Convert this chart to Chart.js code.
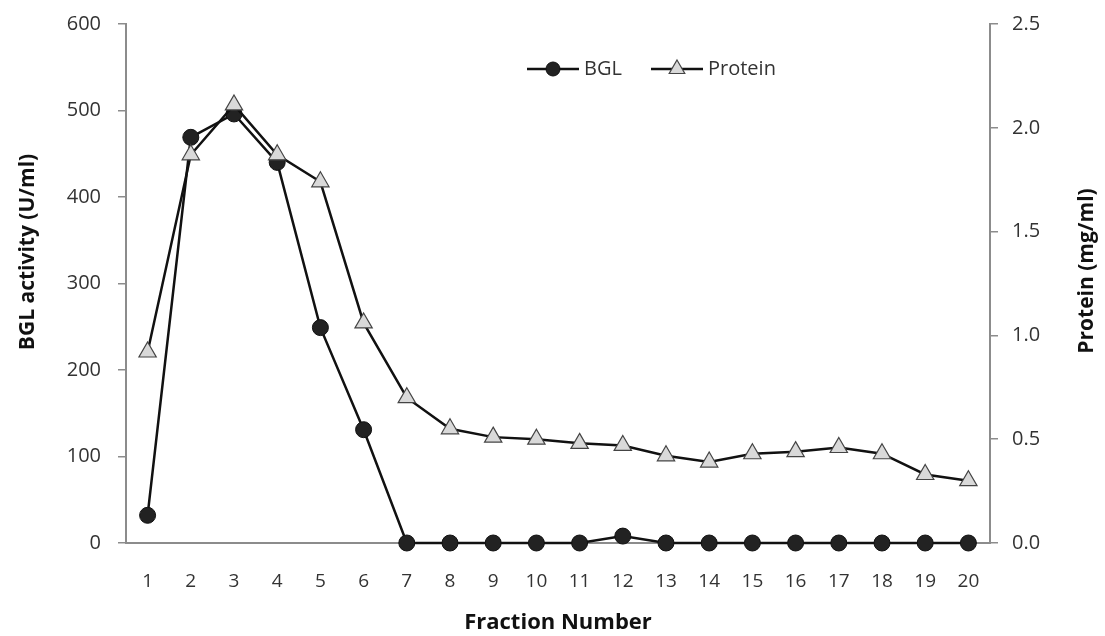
<!DOCTYPE html>
<html>
<head>
<meta charset="utf-8">
<script src="https://cdn.jsdelivr.net/npm/chart.js@4/dist/chart.umd.min.js"></script>
<style>
  html, body { margin: 0; padding: 0; background: #fff; }
  #wrap { width: 1105px; height: 636px; }
</style>
</head>
<body>
<div id="wrap"><canvas id="fractionChart"></canvas></div>
<script>
(function () {
	"use strict";

	var fractions = ["1","2","3","4","5","6","7","8","9","10","11","12","13","14","15","16","17","18","19","20"];
	var bglActivity = [32, 469, 496, 440, 249, 131, 0, 0, 0, 0, 0, 8, 0, 0, 0, 0, 0, 0, 0, 0];
	var proteinConc = [0.92, 1.87, 2.11, 1.87, 1.74, 1.06, 0.70, 0.55, 0.51, 0.50, 0.48, 0.47, 0.42, 0.39, 0.43, 0.44, 0.46, 0.43, 0.33, 0.30];
	var bglTicks = [0, 100, 200, 300, 400, 500, 600];
	var proteinTicks = [0, 0.5, 1.0, 1.5, 2.0, 2.5];

	var fontFamily = "'Open Sans', 'Noto Sans', sans-serif";
	var axisGrey = "#8c8c8c";
	var textColor = "#333";

	// legend + both rotated y titles (read bottom to top on both sides)
	var extras = {
		id: "extras",
		afterDraw: function (chart) {
			var c = chart.ctx;
			var ds = chart.data.datasets;
			var items = [
				{ label: "BGL", ds: ds[0], x: 527 },
				{ label: "Protein", ds: ds[1], x: 651 }
			];
			var y = 69;
			c.save();
			items.forEach(function (it) {
				c.strokeStyle = "#111";
				c.lineWidth = 2.5;
				c.beginPath();
				c.moveTo(it.x, y);
				c.lineTo(it.x + 52, y);
				c.stroke();
				c.fillStyle = it.ds.pointBackgroundColor;
				c.strokeStyle = it.ds.pointBorderColor;
				c.lineWidth = it.ds.pointBorderWidth;
				Chart.helpers.drawPoint(c, {
					pointStyle: it.ds.pointStyle,
					radius: it.ds.pointRadius - 1,
					borderWidth: it.ds.pointBorderWidth
				}, it.x + 26, y);
				c.fillStyle = textColor;
				c.font = "20px " + fontFamily;
				c.textBaseline = "middle";
				c.textAlign = "left";
				c.fillText(it.label, it.x + 57, y);
			});

			c.fillStyle = "#111";
			c.font = "bold 21px " + fontFamily;
			c.textAlign = "center";
			c.textBaseline = "middle";
			[["BGL activity (U/ml)", 28, 252], ["Protein (mg/ml)", 1087, 271]].forEach(function (t) {
				c.save();
				c.translate(t[1], t[2]);
				c.rotate(-Math.PI / 2);
				c.fillText(t[0], 0, 0);
				c.restore();
			});
			c.restore();
		}
	};

	// fixed side widths, and no extra top/bottom padding from the tick labels
	function fitSide(width) {
		return function (s) {
			s.width = width;
			s.paddingTop = 0;
			s.paddingBottom = 0;
		};
	}

	var ctx = document.getElementById("fractionChart");
	var myChart = new Chart(ctx, {
		type: "line",
		data: {
			labels: fractions,
			datasets: [{
				label: "BGL",
				data: bglActivity,
				yAxisID: "yBgl",
				borderColor: "#111",
				borderWidth: 2.5,
				pointStyle: "circle",
				pointRadius: 8,
				pointBackgroundColor: "#222",
				pointBorderColor: "#111",
				pointBorderWidth: 1,
				order: 1
			}, {
				label: "Protein",
				data: proteinConc,
				yAxisID: "yProtein",
				borderColor: "#111",
				borderWidth: 2.5,
				pointStyle: "triangle",
				pointRadius: 10,
				pointBackgroundColor: "#d9d9d9",
				pointBorderColor: "#444",
				pointBorderWidth: 1.2,
				order: 0
			}]
		},
		options: {
			responsive: true,
			maintainAspectRatio: false,
			animation: false,
			clip: false,
			layout: { padding: { top: 24, left: 0, right: 0, bottom: 0 } },
			plugins: {
				legend: { display: false },
				tooltip: { enabled: false }
			},
			scales: {
				x: {
					offset: true,
					grid: { display: false, drawTicks: false },
					border: { color: axisGrey, width: 2 },
					ticks: { color: textColor, padding: 27, font: { size: 19, family: fontFamily } },
					title: {
						display: true,
						text: "Fraction Number",
						color: "#111",
						padding: { top: 12, bottom: 0 },
						font: { size: 22, weight: "bold", family: fontFamily }
					},
					afterFit: function (s) { s.height = 93; }
				},
				yBgl: {
					position: "left",
					min: 0,
					max: 600,
					afterBuildTicks: function (s) { s.ticks = bglTicks.map(function (v) { return { value: v }; }); },
					grid: { display: true, drawOnChartArea: false, tickLength: 8, color: axisGrey, lineWidth: 1.5 },
					border: { color: axisGrey, width: 2 },
					ticks: { color: textColor, padding: 17, font: { size: 20, family: fontFamily } },
					afterFit: fitSide(126)
				},
				yProtein: {
					position: "right",
					min: 0,
					max: 2.5,
					afterBuildTicks: function (s) { s.ticks = proteinTicks.map(function (v) { return { value: v }; }); },
					grid: { display: true, drawOnChartArea: false, tickLength: 8, color: axisGrey, lineWidth: 1.5 },
					border: { color: axisGrey, width: 2 },
					ticks: {
						color: textColor,
						padding: 14,
						font: { size: 20, family: fontFamily },
						callback: function (v) { return Number(v).toFixed(1); }
					},
					afterFit: fitSide(115)
				}
			}
		},
		plugins: [extras]
	});

})();
</script>
</body>
</html>
